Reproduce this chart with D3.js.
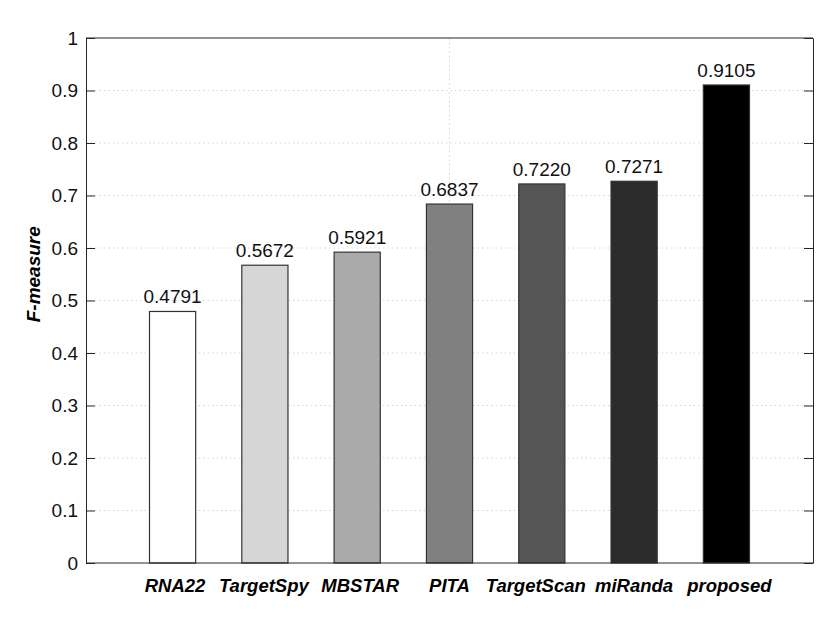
<!DOCTYPE html>
<html>
<head>
<meta charset="utf-8">
<script src="https://cdn.jsdelivr.net/npm/d3@7/dist/d3.min.js"></script>
<style>
  html, body { margin: 0; padding: 0; background: #fff; }
  text { font-family: "Liberation Sans", Arial, Helvetica, sans-serif; }
</style>
</head>
<body>
<svg id="chart" width="830" height="619"></svg>
<script>
const categories = ["RNA22", "TargetSpy", "MBSTAR", "PITA", "TargetScan", "miRanda", "proposed"];
const values = [0.4791, 0.5672, 0.5921, 0.6837, 0.7220, 0.7271, 0.9105];
const valueLabels = ["0.4791", "0.5672", "0.5921", "0.6837", "0.7220", "0.7271", "0.9105"];
const barColors = ["#ffffff", "#d6d6d6", "#aaaaaa", "#808080", "#555555", "#2b2b2b", "#000000"];
const yTicks = [0, 0.1, 0.2, 0.3, 0.4, 0.5, 0.6, 0.7, 0.8, 0.9, 1];
const yTickLabels = ["0", "0.1", "0.2", "0.3", "0.4", "0.5", "0.6", "0.7", "0.8", "0.9", "1"];
const xGridCategory = ["PITA"];
const yLabel = "F-measure";

const svg = d3.select("#chart");
const L = 86, R = 813, T = 38, B = 563;
const axisColor = "#262626";
const labelNudge = [2.5, -1, 3, 0, -6, 0, 3];

const x = d3.scaleBand().domain(categories).range([L, R]).paddingInner(0.5).paddingOuter(0.688);
const y = d3.scaleLinear().domain([0, 1]).range([B, T]);

// horizontal grid
svg.append("g").selectAll("line").data(yTicks.filter(d => d > 0 && d < 1)).join("line")
  .attr("x1", L).attr("x2", R)
  .attr("y1", d => y(d)).attr("y2", d => y(d))
  .attr("stroke", "#d4d4d4").attr("stroke-width", 1)
  .attr("stroke-dasharray", "1.5,3");

// vertical grid
svg.append("g").selectAll("line").data(xGridCategory).join("line")
  .attr("x1", d => x(d) + x.bandwidth() / 2).attr("x2", d => x(d) + x.bandwidth() / 2)
  .attr("y1", T).attr("y2", B)
  .attr("stroke", "#d4d4d4").attr("stroke-width", 1)
  .attr("stroke-dasharray", "1.5,3");

// bars
svg.append("g").selectAll("rect").data(categories).join("rect")
  .attr("x", d => x(d))
  .attr("width", x.bandwidth())
  .attr("y", (d, i) => y(values[i]))
  .attr("height", (d, i) => B - y(values[i]))
  .attr("fill", (d, i) => barColors[i])
  .attr("stroke", "#333")
  .attr("stroke-width", 1.2);

// value labels
svg.append("g").selectAll("text").data(categories).join("text")
  .attr("x", d => x(d) + x.bandwidth() / 2)
  .attr("y", (d, i) => y(values[i]) - 8)
  .attr("text-anchor", "middle")
  .attr("font-size", 19)
  .attr("fill", "#111")
  .text((d, i) => valueLabels[i]);

// axes box
const axL = d3.axisLeft(y).tickValues(yTicks).tickFormat((d, i) => yTickLabels[i]).tickSizeInner(-9).tickSizeOuter(0).tickPadding(8);
const gL = svg.append("g").attr("transform", `translate(${L},0)`).call(axL);
gL.select(".domain").attr("stroke", axisColor);
gL.selectAll(".tick line").attr("stroke", axisColor);
gL.selectAll(".tick text").attr("font-size", 19).attr("fill", "#111")
  .attr("font-family", "'Liberation Sans', Arial, sans-serif");

const axR = d3.axisRight(y).tickValues(yTicks).tickFormat("").tickSizeInner(-9).tickSizeOuter(0);
const gR = svg.append("g").attr("transform", `translate(${R},0)`).call(axR);
gR.select(".domain").attr("stroke", axisColor);
gR.selectAll(".tick line").attr("stroke", axisColor);

svg.append("line").attr("x1", L).attr("x2", R).attr("y1", T).attr("y2", T).attr("stroke", axisColor);
svg.append("line").attr("x1", L).attr("x2", R).attr("y1", B).attr("y2", B).attr("stroke", axisColor);

// category labels
svg.append("g").selectAll("text").data(categories).join("text")
  .attr("x", (d, i) => x(d) + x.bandwidth() / 2 + labelNudge[i])
  .attr("y", 592)
  .attr("text-anchor", "middle")
  .attr("font-size", 18.5)
  .attr("font-weight", "bold")
  .attr("font-style", "italic")
  .attr("fill", "#000")
  .text(d => d);

// y label
svg.append("text")
  .attr("transform", `translate(40,${y(0.55)}) rotate(-90)`)
  .attr("text-anchor", "middle")
  .attr("font-size", 19)
  .attr("font-weight", "bold")
  .attr("font-style", "italic")
  .attr("fill", "#000")
  .text(yLabel);
</script>
</body>
</html>
